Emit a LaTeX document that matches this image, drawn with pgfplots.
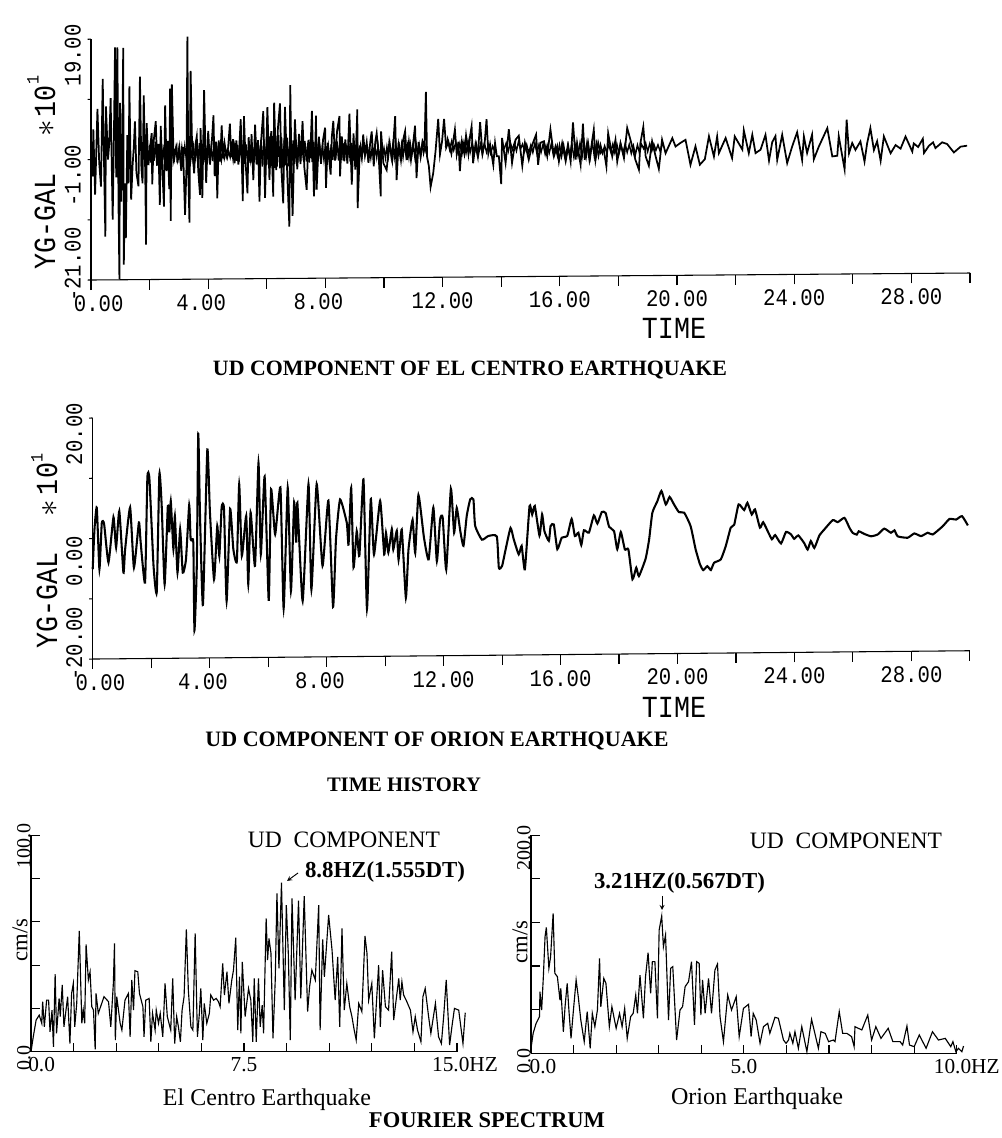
\documentclass[border=0pt]{standalone}
\usepackage{fontspec}
\setmainfont{Liberation Serif}
\newfontfamily\plotfont[FakeStretch=0.87]{Liberation Mono}
\usepackage{pgfplots}
\pgfplotsset{compat=1.18}
\newcommand\timelab{\fontsize{17.8}{18}\selectfont\plotfont}
\newcommand\speclab{\fontsize{16}{17}\selectfont\rmfamily}
\newcommand\specy{\fontsize{15}{16}\selectfont\rmfamily}
\newcommand\bigplot{\fontsize{23}{24}\selectfont\plotfont}
\pgfplotsset{
 quake/.style={anchor=origin,clip=false,axis x line=bottom,axis y line=left,axis line style={-,line width=0.8pt},
  xmin=0,xmax=30,xtick={0,2,...,30},tick align=outside,tick style={black,line width=0.8pt},
  major tick length=7.5pt,
  ytick style={/pgfplots/major tick length=2.6pt},
  xticklabel style={font=\timelab,anchor=north,inner sep=0pt,yshift=-4pt},
  yticklabel style={font=\timelab,rotate=90,anchor=south,inner sep=0pt,xshift=-12pt},
  xlabel={},ylabel={}},
 spec/.style={anchor=origin,clip=false,axis x line=bottom,axis y line=left,axis line style={-,line width=0.8pt},
  tick align=inside,tick style={black,line width=0.8pt},major tick length=6.5pt,ymin=0,
  xticklabel style={font=\speclab,anchor=north,inner sep=0pt,yshift=-4pt},
  yticklabel style={font=\specy,rotate=90,anchor=south,inner sep=0pt,xshift=-7pt}},
}
\begin{document}
\begin{tikzpicture}
\path[use as bounding box] (0,0) rectangle (751.5pt,853.5pt);
% ---------------- top time history
\begin{axis}[quake,at={(68.25pt,738.3pt)},x={(21.975pt,0.175pt)},y={(0pt,4.515pt)},ymin=-21,ymax=19,unbounded coords=jump,
 xticklabels={\kern11.5pt 0.00,,4.00\kern10.5pt,,8.00\kern10.5pt,,12.00,,16.00,,20.00,,24.00,,28.00,,},
 ytick={-21,-11,-1,9,19},yticklabels={\kern47pt -21.00,,-1.00,,19.00}]
\addplot[black,line width=1.3pt] coordinates {
(0,-1)(.05,-3.8)(.08,4)(.14,-6.8)(.22,7.4)(.28,-1.5)(.34,-5.5)(.40,12.4)(.45,-3)(.49,-13.8)(.51,7.8)(.58,-1)(.62,1.5)(.67,9.2)(.74,-11)(.78,2)(.82,17.6)(.86,-4)(.90,17.6)(.94,-9)(.97,-20.9)(.99,8.4)(1.03,-8)(1.07,3)(1.10,17.5)(1.12,-18.5)(1.16,-5)(1.19,-14.1)(1.24,3)(1.28,-5)(1.31,11.1)(1.37,-7.7)(1.42,-2)(1.46,1)(1.50,5.3)(1.55,-3.2)(1.62,-5.5)(1.67,12.7)(1.72,-2.5)(1.76,-5)(1.80,9.6)(1.85,-3)(1.88,-15.2)(1.90,5)(1.96,-2)(2.02,1)(2.07,3.3)(2.09,-5.2)(2.14,2)(2.21,5.3)(2.26,-2)(2.30,1.5)(2.35,-8.6)(2.38,4.5)(2.42,-1)(2.49,-8.9)(2.53,7.9)(2.58,-3)(2.62,2)(2.67,-6)(2.70,10.7)(2.72,-11.3)(2.76,11.4)(2.82,-1)(2.88,.5)(2.92,1.1)(2.95,-1.7)(3.02,.8)(3.08,-3)(3.14,1)(3.21,-10.3)(3.26,-2)(3.29,19.3)(3.32,-3)(3.36,-11.6)(3.40,13.6)(3.45,1)(3.52,-3.4)(3.57,1.5)(3.61,2.7)(3.66,-3)(3.72,-7)(3.74,4.1)(3.80,-7.5)(3.86,10.4)(3.93,-5)(4.00,3.6)(4.06,-2)(4.12,1.5)(4.18,6.2)(4.22,-3.9)(4.27,1.8)(4.31,-7.6)(4.36,2)(4.41,-1.5)(4.46,4.5)(4.51,-1)(4.56,1.5)(4.62,-.5)(4.68,.8)(4.74,4.8)(4.79,-.8)(4.85,2.2)(4.90,-1.8)(4.96,2)(5.03,-2)(5.11,5.5)(5.15,-2)(5.18,-8.1)(5.22,6)(5.28,-2)(5.34,-6.8)(5.38,2.5)(5.44,-1.8)(5.48,3)(5.54,-4.6)(5.60,4.6)(5.66,-2)(5.70,2)(5.75,-8.2)(5.80,1.5)(5.88,6.8)(5.94,-7.6)(6.02,7.5)(6.09,-4.6)(6.15,3.5)(6.22,-7.4)(6.25,8.2)(6.32,-3)(6.38,4)(6.45,8.1)(6.50,-3)(6.56,-8.5)(6.62,7.5)(6.70,-4)(6.77,-12.4)(6.80,11.1)(6.85,-5)(6.88,-10.6)(6.96,5.4)(7.04,-2.9)(7.10,3)(7.15,-2)(7.22,5.1)(7.28,-2.5)(7.36,-6.3)(7.42,2)(7.48,-1)(7.54,6.8)(7.61,-7.4)(7.68,6)(7.70,-6.3)(7.78,2.5)(7.85,-2)(7.92,2)(7.99,4)(8.02,-6)(8.08,1.5)(8.13,-1.5)(8.18,-3.8)(8.22,2.5)(8.27,5.1)(8.33,-1.5)(8.40,3.5)(8.48,5.9)(8.50,-4.1)(8.56,2.5)(8.62,-1.5)(8.68,2)(8.75,-2)(8.82,6.3)(8.90,-5.5)(8.96,3)(9.02,-3)(9.09,7)(9.10,-9.4)(9.18,1)(9.24,-1)(9.29,2.8)(9.35,-.5)(9.41,1.5)(9.47,-1.9)(9.53,1.5)(9.58,3.3)(9.65,-2.5)(9.70,1.5)(9.75,3)(9.82,-1)(9.89,-7.5)(9.90,3.3)(9.98,-2)(10.09,-3.1)(10.18,1.5)(10.28,-1.5)(10.38,5.8)(10.43,-4.8)(10.50,1.5)(10.58,-1.5)(10.65,1.8)(10.72,3.3)(10.78,-1.5)(10.85,1.5)(10.92,-1.5)(11.0,1.5)(11.06,4.2)(11.11,-4.5)(11.18,1.5)(11.25,-1)(11.32,1.5)(11.38,.5)(11.43,9.8)(11.47,-1)(11.53,-2.5)(11.59,-6)(11.68,-3.7)(11.76,0)(11.85,5.3)(11.91,-.6)(11.98,1.5)(12.05,5.3)(12.12,.5)(12.2,1.5)(12.3,-.5)(12.36,1.5)(12.42,3.5)(12.48,-.5)(12.54,1.5)(12.59,-3.4)(12.66,1.5)(12.74,-.5)(12.8,2.5)(12.88,-.5)(12.94,2.5)(12.99,4)(13.04,-2.1)(13.12,1)(13.2,-1)(13.28,4.7)(13.36,-.5)(13.44,1.5)(13.50,5.2)(13.56,-.5)(13.62,1)(13.73,-2.4)(13.79,1.2)(13.85,-1)(13.92,-1)
(14.0,-5.6)(14.03,2.05)(14.15,-2.1)(14.26,3.5)(14.37,-2.1)(14.49,1.75)(14.6,2.4)(14.72,-2.6)(14.81,1.2)(14.94,-1.6)(15.06,.9)(15.19,2.55)(15.26,-2.45)(15.34,1.2)(15.46,1.45)(15.57,-1.05)(15.68,3.4)(15.80,-1.05)(15.91,.6)(15.97,-1.9)(16.08,1.1)(16.2,-1.9)(16.29,.6)(16.37,-1.95)(16.45,4.55)(16.54,-1.65)(16.59,1.1)(16.71,-2.5)(16.79,4.3)(16.85,-1.7)(16.93,1.1)(17.01,-1.7)(17.16,3.3)(17.22,-1.7)(17.31,1.1)(17.39,-.6)(17.5,0)(17.59,-2.8)(17.65,2.7)(17.79,-1.15)(17.9,1.6)(17.96,-2)(18.07,1.05)(18.19,-1.45)(18.3,3.55)(18.41,1.6)(18.58,-1.75)(18.7,-3.4)(18.75,1)(18.85,3.7)(18.93,-1.2)(19.04,-2.75)(19.15,1.3)(19.27,-1.2)(19.38,-3.3)(19.49,1.55)(19.61,-.7)(19.84,1.8)(19.95,.4)(20.12,1)(20.29,1.5)(20.46,-2.65)(20.63,.4)(20.78,-2.65)(20.95,-1.75)(21.09,2.05)(21.26,-1.3)(21.37,2)(21.43,-.75)(21.66,1.75)(21.88,-1.6)(21.97,2)(22.23,-.2)(22.28,3)(22.45,-.8)(22.57,2.25)(22.68,-.8)(22.85,-.25)(23.02,2.2)(23.14,-2.05)(23.25,1)(23.36,2)(23.42,-1.95)(23.59,2.2)(23.76,-2.5)(23.93,.25)(24.1,2.6)(24.27,-2)(24.33,1.9)(24.44,-.85)(24.61,2.2)(24.67,-1.9)(24.84,.2)(25.13,3.25)(25.3,-1.45)(25.47,-1.35)(25.52,1.9)(25.72,-3.6)(25.79,4.65)(25.87,-.95)(25.98,.75)(26.09,-.4)(26.26,1)(26.4,-2.35)(26.49,.7)(26.6,3.2)(26.72,-.45)(26.83,1)(26.95,-2.25)(27.06,1.8)(27.29,-1)(27.46,.35)(27.63,-.25)(27.8,1.75)(28.03,-.75)(28.08,.6)(28.23,0)(28.39,1.35)(28.43,-1)(28.6,.2)(28.74,.75)(28.82,-.2)(29.05,.75)(29.22,.45)(29.45,-.95)(29.68,0)(29.9,.15)
};
% the black core of the record, read as its envelope between the large swings
\addplot[black,line width=1.1pt] coordinates {
(2.00,1.4)(2.05,-1.6)(2.10,1.7)(2.15,-1.3)(2.20,1.9)(2.25,-2.1)(2.30,1.2)(2.35,-1.8)(2.40,1.6)(2.45,-1.1)(2.50,1.4)(2.55,-1.9)(2.60,1.3)(2.65,-1.4)(2.70,.9)(2.75,-1.2)(2.80,1.1)(2.85,-.9)(2.90,.8)(2.95,-1.1)(3.00,.7)(3.05,-1.3)(3.10,.9)(3.15,-1.2)(3.20,1.1)(3.25,-.8)(3.30,1.2)(3.35,-1.1)(3.40,.9)(3.45,-1.0)(3.50,1.0)(3.55,-1.4)(3.60,1.3)(3.65,-1.8)(3.70,1.6)(3.75,-2.0)(3.80,1.5)(3.85,-1.6)(3.90,1.3)(3.95,-1.3)(4.00,1.1)(4.05,-1.6)(4.10,.9)(4.15,-1.4)(4.20,1.2)(4.25,-1.1)(4.30,.7)(4.35,-1.2)(4.40,.5)(4.45,-1.3)(4.50,.4)(4.55,-1.0)(4.60,.1)(4.65,-.9)(4.70,.2)(4.75,-.8)(4.80,.6)(4.85,-1.2)(4.90,.9)(4.95,-1.4)(5.00,1.2)(5.05,-1.6)(5.10,1.5)(5.15,-1.5)(5.20,1.4)(5.25,-1.9)(5.30,1.3)(5.35,-1.6)(5.40,1.1)(5.45,-1.2)(5.50,1.2)(5.55,-1.4)(5.60,1.5)(5.65,-2.0)(5.70,1.9)(5.75,-2.2)(5.80,2.1)(5.85,-2.4)(5.90,2.2)(5.95,-2.5)(6.00,2.5)(6.05,-2.1)(6.10,2.6)(6.15,-2.3)(6.20,2.7)(6.25,-2.6)(6.30,2.4)(6.35,-2.4)(6.40,2.8)(6.45,-2.7)(6.50,2.5)(6.55,-2.6)(6.60,2.3)(6.65,-2.2)(6.70,2.4)(6.75,-2.4)(6.80,2.1)(6.85,-2.3)(6.90,1.9)(6.95,-2.0)(7.00,1.6)(7.05,-1.8)(7.10,1.4)(7.15,-1.6)(7.20,1.6)(7.25,-1.4)(7.30,1.8)(7.35,-1.6)(7.40,1.5)(7.45,-1.8)(7.50,1.9)(7.55,-1.7)(7.60,1.6)(7.65,-2.0)(7.70,1.7)(7.75,-1.6)(7.80,1.3)(7.85,-1.4)(7.90,1.0)(7.95,-1.3)(8.00,1.1)(8.05,-1.2)(8.10,.9)(8.15,-1.5)(8.20,1.2)(8.25,-1.4)(8.30,1.6)(8.35,-1.3)(8.40,1.7)(8.45,-1.5)(8.50,1.8)(8.55,-1.4)(8.60,1.4)(8.65,-1.6)(8.70,1.2)(8.75,-1.2)(8.80,1.3)(8.85,-1.7)(8.90,1.4)(8.95,-1.5)(9.00,1.2)(9.05,-1.3)(9.10,1.0)(9.15,-1.1)(9.20,.9)(9.25,-.9)(9.30,1.0)(9.35,-.7)(9.40,.7)(9.45,-1.0)(9.50,.5)(9.55,-1.1)(9.60,.8)(9.65,-1.2)(9.70,.6)(9.75,-1.0)(9.80,.9)(9.85,-1.2)(9.90,.7)(9.95,-.8)(10.00,.5)(10.05,-1.1)(10.10,.7)(10.15,-.9)(10.20,1.2)(10.25,-1.0)(10.30,1.0)(10.35,-1.0)(10.40,1.3)(10.45,-.9)(10.50,1.2)(10.55,-.8)(10.60,1.1)(10.65,-1.0)(10.70,1.2)(10.75,-.7)(10.80,.9)(10.85,-1.0)(10.90,1.1)(10.95,-.6)(11.00,1.0)(11.05,-.9)(11.10,1.1)(11.15,-.5)(11.20,1.0)(11.25,-.7)(11.30,1.2)(11.35,-.4)(11.40,.8)(11.45,-.5)(11.8,nan)
(12.10,.6)(12.17,2)(12.24,.2)(12.31,1.6)(12.38,.1)(12.45,1.4)(12.52,-.3)(12.59,1.2)(12.66,-.6)(12.73,1.4)(12.80,-.4)(12.87,1.6)(12.94,-.3)(13.01,1.3)(13.08,-.5)(13.15,1.1)(13.22,-.8)(13.29,1.0)(13.36,-.7)(13.43,1.2)(13.50,-.3)(13.57,.9)(13.64,-.5)(13.71,.7)(13.78,-.2)(13.9,nan)
(14.10,.2)(14.17,1.2)(14.24,-.2)(14.31,1.3)(14.38,.1)(14.45,1.2)(14.52,-.1)(14.59,1.4)(14.66,.2)(14.73,1.0)(14.80,-.2)(14.87,.9)(14.94,-.5)(15.01,.8)(15.08,-.4)(15.15,1.2)(15.22,-.6)(15.29,.9)(15.36,-.4)(15.43,1.0)(15.50,-.7)(15.57,.8)(15.64,-.5)(15.71,1.0)(15.78,-.8)(15.85,.6)(15.92,-1.0)(15.99,.8)(16.06,-1.1)(16.13,.8)(16.20,-1.2)(16.27,.8)(16.34,-1.0)(16.41,1.0)(16.48,-1.2)(16.55,.9)(16.62,-1.0)(16.69,1.1)(16.76,-1.2)(16.83,1.2)(16.90,-1.2)(16.97,1.1)(17.04,-1.3)(17.11,1.3)(17.18,-1.2)(17.25,1.0)(17.32,-1.1)(17.39,.8)(17.46,-.6)(17.53,.6)(17.60,-.5)(17.67,.8)(17.74,-.4)(17.81,.9)(17.88,-.6)(17.95,.8)(18.02,-.7)(18.09,.7)(18.16,-.6)(18.23,.9)(18.30,-.5)(18.37,.8)(18.44,-.7)(18.51,.6)(18.58,-.9)(18.65,.7)(18.72,-.6)(18.79,.8)(18.86,.1)(18.93,1.0)(19.00,-.4)(19.07,.9)(19.14,-.3)(19.21,.8)(19.28,-.2)(19.35,.7)(19.42,-.3)(19.49,.6)
};
\end{axis}
% ---------------- second time history
\begin{axis}[quake,at={(69.525pt,449.6pt)},x={(21.93pt,0.2075pt)},y={(0pt,4.519pt)},ymin=-20,ymax=20,
 xticklabels={\kern11.5pt 0.00,,4.00\kern10pt,,8.00\kern10pt,,12.00,,16.00,,20.00,,24.00,,28.00,,},
 ytick={-20,-10,0,10,20},yticklabels={\kern47pt -20.00,,0.00\kern10pt,,20.00}]
\addplot[black,line width=1.55pt,smooth,tension=0.3] coordinates {
(0,-5.1)(.06,1.5)(.14,5.1)(.23,-5.1)(.31,2.5)(.39,2.4)(.54,-4)(.71,3.5)(.80,-1.5)(.91,4.5)(1.05,-5.7)(1.11,-1.8)(1.28,5.1)(1.41,-4.9)(1.58,2.6)(1.64,-.7)(1.79,-7.4)(1.87,10)(1.94,9.8)(2.08,-4.6)(2.19,-9)(2.28,10.6)(2.36,5.3)(2.46,-7.7)(2.57,5.3)(2.62,.9)(2.67,6.1)(2.76,-1.9)(2.81,3.6)(2.90,-5.8)(2.99,1.4)(3.08,-5.8)(3.19,-3.6)(3.30,5.4)(3.35,-.3)(3.44,-.8)(3.48,-15.4)(3.56,-4.7)(3.61,17.2)(3.67,3.6)(3.77,-11.2)(3.92,14.6)(4.01,4.1)(4.15,-7)(4.26,1.9)(4.33,-3.1)(4.41,5)(4.49,4.7)(4.58,-10.6)(4.70,4.7)(4.81,-2)(4.93,-4)(5.01,8.8)(5.10,-3.1)(5.25,3.5)(5.32,-7.8)(5.40,4.1)(5.55,-4.8)(5.67,12.3)(5.75,-2.9)(5.88,10)(6.02,-10.6)(6.10,7.9)(6.24,.4)(6.42,8.2)(6.53,-11.9)(6.67,8.1)(6.78,-9)(6.89,5.7)(6.96,-1)(7.0,5.6)(7.18,-10.7)(7.38,8.7)(7.48,-8.8)(7.66,8.7)(7.86,-4.9)(8.06,5.9)(8.22,-11.7)(8.32,-.5)(8.46,6.1)(8.69,2.2)(8.75,-1.4)(8.84,8)(8.92,-5.2)(9.03,.8)(9.12,-3.3)(9.26,9.4)(9.38,-12.1)(9.51,6.1)(9.62,-3.1)(9.83,5.8)(9.97,-3.1)(10.03,.5)(10.11,-2.8)(10.23,1.1)(10.28,-2.3)(10.40,.8)(10.46,-4)(10.57,1)(10.71,-10.3)(10.80,-2.3)(10.94,2.6)(11.03,-2.9)(11.14,6.7)(11.33,-.4)(11.49,-4)(11.65,4.6)(11.77,-4.3)(11.88,2.6)(11.97,2.9)(12.09,-5.7)(12.25,7.7)(12.36,.4)(12.45,4.5)(12.57,.7)(12.68,-1.8)(12.79,3.1)(12.91,5.9)(13.02,5.9)(13.08,1.5)(13.31,-.8)(13.53,-.2)(13.82,-.3)(13.89,-5.5)(14.0,-5.2)(14.12,-2.5)(14.29,1.1)(14.40,-.8)(14.57,-3.3)(14.67,-1.9)(14.78,-5.8)(14.94,4.7)(15.03,3.3)(15.12,4.7)(15.28,-.2)(15.37,3.3)(15.45,.5)(15.6,-1.1)(15.66,1.35)(15.77,1.6)(15.89,-2.5)(16.04,-.6)(16.23,-.3)(16.38,2.5)(16.49,-.35)(16.61,.2)(16.71,-1.85)(16.80,.6)(16.97,.2)(17.14,3.05)(17.26,1.7)(17.41,3.6)(17.54,3.45)(17.66,1.15)(17.83,.4)(17.94,-2.6)(18.06,.25)(18.2,-2.65)(18.32,-2.65)(18.46,-7.6)(18.59,-5.7)(18.68,-7.1)(18.91,-4.2)(19.03,-1)(19.14,3.4)(19.31,5.3)(19.45,7)(19.6,4.75)(19.73,6)(19.88,4.75)(20.05,3.45)(20.23,3.35)(20.45,1.1)(20.62,-2.75)(20.77,-5.25)(20.88,-6.2)(21.02,-5.55)(21.14,-6.2)(21.25,-5)(21.48,-4.45)(21.65,-2.25)(21.82,.8)(21.94,1.3)(22.09,4.65)(22.28,3.7)(22.39,4.9)(22.54,2.95)(22.65,3.8)(22.82,.75)(22.93,1.65)(23.11,-.1)(23.23,-1.2)(23.34,-.5)(23.54,-1.9)(23.71,0)(23.88,-.4)(23.99,-1.15)(24.13,-.6)(24.33,-1.85)(24.45,-2.95)(24.56,-1.55)(24.68,-2.7)(24.85,-.65)(25.02,.35)(25.31,1.9)(25.48,1.55)(25.71,2.25)(25.88,.6)(25.99,-.25)(26.13,-.55)(26.2,0)(26.39,-.45)(26.62,-.85)(26.85,-.55)(27.07,.4)(27.3,-.3)(27.42,.1)(27.53,-.9)(27.87,-1.15)(28.1,-.45)(28.33,-.9)(28.56,-.35)(28.73,-.65)(29.07,.7)(29.3,1.9)(29.53,1.8)(29.73,2.35)(29.93,.8)
};
\end{axis}
% ---------------- left spectrum
\begin{axis}[spec,at={(23.25pt,64.7pt)},x={(21.3pt,0pt)},y={(0pt,1.625pt)},xmin=0,xmax=15,ymax=100,
 xtick={0,1.5,...,15},xticklabels={\kern16pt 0.0,,,,,7.5,,,,,\kern12pt 15.0HZ},
 ytick={0,20,...,100},yticklabels={\kern4pt 0.0,,,,,100.0\kern3pt}]
\addplot[black,line width=.85pt] coordinates {
(0,0)(.08,6.9)(.18,14.6)(.29,16.9)(.38,13.1)(.41,23.1)(.47,11.5)(.55,23.8)(.62,23.8)(.67,9.2)(.74,19.2)(.79,2.3)(.85,35.8)(.90,8.5)(.99,24.6)(1.03,16.2)(1.10,30.8)(1.16,11.5)(1.29,25.4)(1.37,3.8)(1.43,26.9)(1.49,31.5)(1.54,11.5)(1.61,22.3)(1.70,55.8)(1.79,13.1)(1.84,19.2)(1.89,13.1)(1.94,49.5)(2.02,33.1)(2.08,36.9)(2.14,20.8)(2.20,19.2)(2.26,1.1)(2.29,26.9)(2.37,17.7)(2.49,22.3)(2.57,25.4)(2.73,23.1)(2.81,11.5)(2.90,31.5)(2.94,50)(2.97,5.4)(3.02,25.4)(3.14,13.1)(3.20,10)(3.31,23.8)(3.43,26.9)(3.49,6.9)(3.55,33.1)(3.61,19.2)(3.66,37.4)(3.76,36.9)(3.82,26.9)(3.94,20.8)(3.98,6.9)(4.04,23.8)(4.16,24.6)(4.22,4.6)(4.28,17.7)(4.37,10)(4.41,19.2)(4.49,13.1)(4.55,17.7)(4.64,6.9)(4.72,31.5)(4.80,16.2)(4.92,10)(4.99,33.8)(5.06,3.8)(5.13,16.2)(5.19,11.5)(5.26,4.6)(5.32,19.2)(5.39,25.4)(5.47,56.5)(5.54,28.5)(5.63,11.5)(5.70,10)(5.78,54.6)(5.86,6.9)(5.92,16.2)(5.98,29.2)(6.05,5.4)(6.10,22.3)(6.19,13.1)(6.28,17.7)(6.33,26.2)(6.43,23.8)(6.52,24.6)(6.60,23.1)(6.66,20.8)(6.75,40.8)(6.81,26.2)(6.90,36.9)(6.97,22.3)(7.07,33.1)(7.13,37.7)(7.21,52.6)(7.28,10)(7.34,34.6)(7.39,8.5)(7.44,41.5)(7.54,16.2)(7.66,29.2)(7.74,23.8)(7.81,4.6)(7.86,33.8)(7.93,4.6)(8.01,33.8)(8.07,11.5)(8.14,21.5)(8.19,8.5)(8.28,61.5)(8.33,42.3)(8.38,52.3)(8.45,45.4)(8.52,6.2)(8.60,33.1)(8.66,73.1)(8.73,38.5)(8.82,78)(8.92,19.2)(8.99,67.7)(9.06,45.4)(9.13,5.4)(9.19,70.8)(9.30,23.8)(9.42,69.7)(9.50,24.6)(9.62,71.8)(9.74,18.5)(9.81,30)(9.89,37.7)(10.01,33.1)(10.13,67.7)(10.18,10)(10.27,51.8)(10.33,34.6)(10.48,63.1)(10.60,46.9)(10.71,23.8)(10.80,43.8)(10.87,11.5)(10.95,56.9)(11.03,19.2)(11.12,31.5)(11.22,20.8)(11.30,16.2)(11.38,10)(11.45,5.4)(11.54,22.3)(11.65,18.5)(11.76,53.4)(11.83,45.4)(11.89,23.8)(12.0,31.5)(12.09,6.2)(12.24,40)(12.30,11.5)(12.38,37.7)(12.48,20.8)(12.59,19.2)(12.70,46.2)(12.77,14.6)(12.95,33.8)(13.0,23.8)(13.06,32.3)(13.12,26.2)(13.21,23.8)(13.36,19.2)(13.45,9.2)(13.53,16.2)(13.61,10)(13.73,4.6)(13.80,25.4)(13.88,29.2)(14.0,16.2)(14.08,8.5)(14.24,22.3)(14.35,6.9)(14.45,3.8)(14.53,16.2)(14.62,33.1)(14.74,3.1)(14.82,11.5)(14.91,20)(15.06,19.2)(15.21,3.8)(15.29,18)
};
\end{axis}
% ---------------- right spectrum
\begin{axis}[spec,at={(398.25pt,63.5pt)},x={(31.93pt,0pt)},y={(0pt,.8186pt)},xmin=0,xmax=10,ymax=200,
 xtick={0,1,...,10},xticklabels={\kern18pt 0.0,,,,,5.0,,,,,\kern15pt 10.0HZ},
 ytick={0,40,...,200},yticklabels={\kern2pt 0.0,,,,,200.0\kern6pt}]
\addplot[black,line width=.85pt] coordinates {
(0,4.6)(.05,18.3)(.12,27.5)(.20,33.6)(.21,56.5)(.25,39.7)(.29,70.2)(.33,106.9)(.36,115.4)(.42,77.9)(.46,88.5)(.52,128.2)(.56,73.3)(.62,70.2)(.68,48.8)(.70,59.5)(.76,19.8)(.80,42.7)(.85,64.1)(.89,39.7)(.94,13.7)(.99,36.6)(1.06,67.2)(1.11,51.9)(1.17,30.5)(1.25,10.7)(1.32,38.2)(1.39,4.6)(1.44,36.6)(1.50,24.4)(1.56,39.7)(1.61,87)(1.64,42.7)(1.71,68.7)(1.76,64.1)(1.84,24.4)(1.90,42.7)(2.0,22.9)(2.08,36.6)(2.14,24.4)(2.20,41.2)(2.26,13.7)(2.34,33.6)(2.40,36.6)(2.46,53.4)(2.50,36.6)(2.56,71.7)(2.64,32.1)(2.69,70.2)(2.75,92.2)(2.81,55)(2.85,84)(2.91,84)(2.97,32.1)(3.01,113)(3.07,125.8)(3.11,97.7)(3.16,108.4)(3.23,30.5)(3.28,77.9)(3.33,79.4)(3.42,12.2)(3.50,39.7)(3.56,42.7)(3.62,61.1)(3.70,65.6)(3.77,84)(3.84,26)(3.89,84)(3.95,82.4)(3.99,35.1)(4.03,67.2)(4.09,36.6)(4.17,68.7)(4.24,36.6)(4.32,76.3)(4.38,81.8)(4.44,33.6)(4.52,10.7)(4.62,53.4)(4.71,39.7)(4.82,51.9)(4.89,15.3)(4.99,41.2)(5.11,44.9)(5.17,15.3)(5.22,36.6)(5.29,30.5)(5.38,9.2)(5.46,24.4)(5.56,27.5)(5.61,18.3)(5.73,33)(5.81,32.1)(5.93,12.2)(5.99,9.2)(6.05,12.2)(6.08,18.3)(6.15,9.2)(6.20,19.8)(6.28,4.6)(6.36,24.4)(6.48,1.5)(6.59,31.1)(6.75,4.6)(6.81,19.8)(6.91,18.3)(6.99,10.7)(7.10,12.2)(7.14,10.7)(7.24,38.2)(7.32,18.3)(7.42,18.3)(7.53,15.3)(7.59,6.1)(7.61,24.4)(7.77,21.4)(7.91,35.1)(8.0,12.2)(8.10,24.4)(8.22,13.7)(8.39,22.9)(8.50,10.7)(8.67,10.7)(8.73,7.6)(8.83,25)(8.89,7.6)(9.0,6.1)(9.12,16.8)(9.28,4.6)(9.43,19.8)(9.57,12.2)(9.73,13.7)(9.86,6.1)(9.91,10.7)(9.98,1.5)(10.04,4.6)(10.12,1.5)(10.16,6.7)
};
\end{axis}
% ---------------- text, in pixel positions of the page
\begin{scope}[shift={(0,853.5pt)},x=.75pt,y=-.75pt,every node/.style={inner sep=0pt}]
\node at (470,370) {\resizebox{385.5pt}{!}{\bfseries UD COMPONENT OF EL CENTRO EARTHQUAKE}};
\node at (437,741) {\resizebox{347.25pt}{!}{\bfseries UD COMPONENT OF ORION EARTHQUAKE}};
\node at (404,785) {\resizebox{115.5pt}{!}{\bfseries TIME HISTORY}};
\node at (487,1120) {\resizebox{177pt}{!}{\bfseries FOURIER SPECTRUM}};
\node at (267,1100) {\resizebox{156pt}{!}{El Centro Earthquake}};
\node at (757,1099) {\resizebox{129pt}{!}{Orion Earthquake}};
\node at (344,840) {\resizebox{144pt}{!}{UD\ \ COMPONENT}};
\node at (846,841) {\resizebox{144pt}{!}{UD\ \ COMPONENT}};
\node at (385,872) {\resizebox{120pt}{!}{\bfseries 8.8HZ(1.555DT)}};
\node at (679.5,883) {\resizebox{128.25pt}{!}{\bfseries 3.21HZ(0.567DT)}};
\draw[-stealth,line width=.7pt] (298,873)--(287,881);
\draw[-stealth,line width=.7pt] (662,896)--(662,910);
\node[rotate=90] at (20,940) {\fontsize{17}{17}\selectfont cm/s};
\node[rotate=90] at (520,942) {\fontsize{17}{17}\selectfont cm/s};
% plotter labels
\node at (674,328) {\bigplot TIME};
\node at (674,707) {\bigplot TIME};
\node[rotate=90] at (45,221.5) {\bigplot YG-GAL};
\node[rotate=90] at (47,128) {\bigplot $\ast$};
\node[rotate=90] at (45,102) {\bigplot 10};
\node[rotate=90] at (33,80) {\fontsize{13}{14}\selectfont\plotfont 1};
\node[rotate=90] at (47,600.5) {\bigplot YG-GAL};
\node[rotate=90] at (50,508) {\bigplot $\ast$};
\node[rotate=90] at (47,479) {\bigplot 10};
\node[rotate=90] at (37,458) {\fontsize{13}{14}\selectfont\plotfont 1};
\end{scope}
\end{tikzpicture}
\end{document}
